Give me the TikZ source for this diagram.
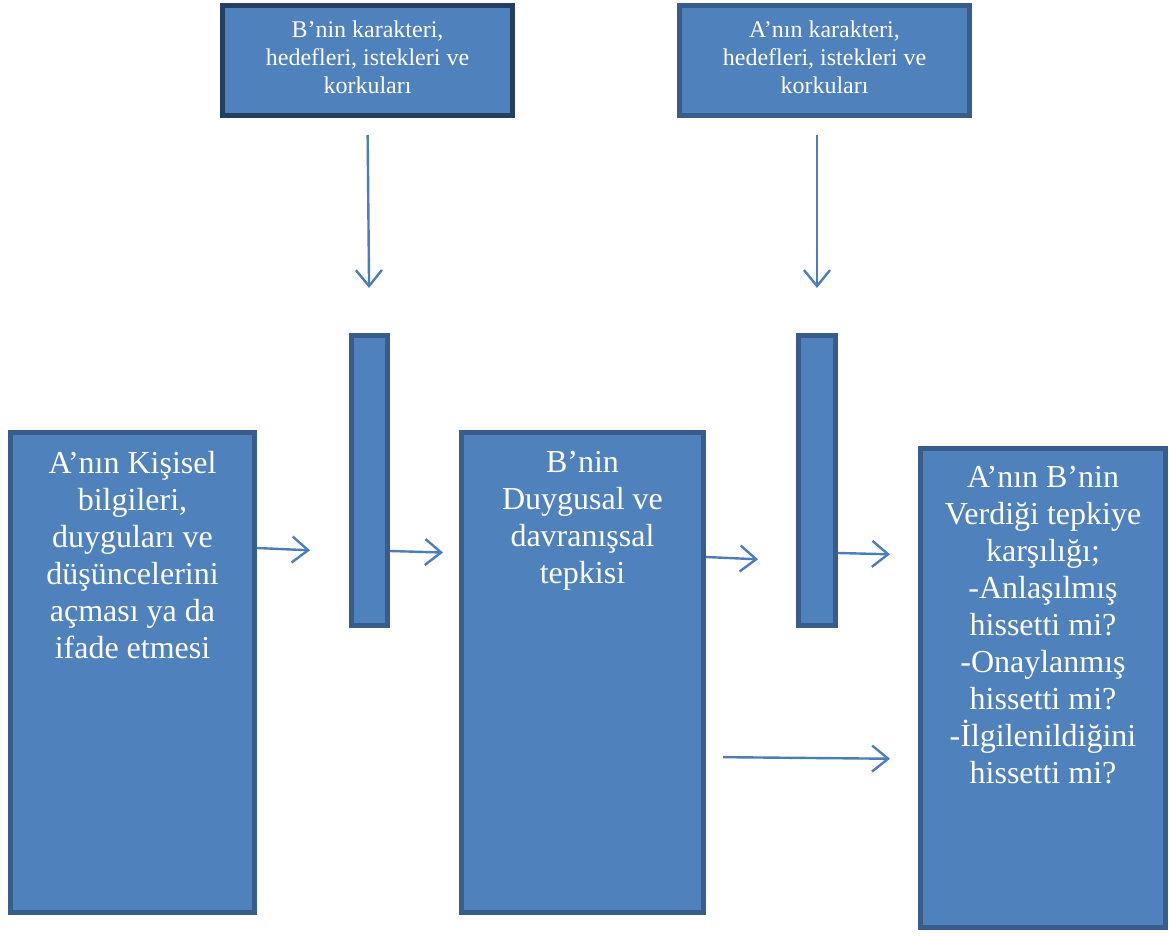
\documentclass[tikz,border=0pt]{standalone}
\usepackage{fontspec}
\setmainfont{Liberation Serif}
\usetikzlibrary{arrows.meta}

\definecolor{boxblue}{HTML}{4F81BD}
\definecolor{boxline}{HTML}{385D8A}
\definecolor{darkline}{HTML}{243F60}
\definecolor{arrowblue}{HTML}{4A7EBB}

\tikzset{
  box/.style={draw=boxline, fill=boxblue, line width=5pt, inner sep=0pt},
  boxtext/.style={text=white, align=center, inner sep=0pt, anchor=north},
  small/.style={font=\fontsize{24}{28}\selectfont},
  big/.style={font=\fontsize{32}{37}\selectfont},
  arr/.style={draw=arrowblue, line width=2.4pt, -{Straight Barb[length=16pt,width=26pt]}},
}

\begin{document}
\begin{tikzpicture}[x=1pt,y=-1pt]
  \useasboundingbox (0,0) rectangle (1169,936);

  \node (kB) at (367.5,60.5) [box, draw=darkline, minimum width=290pt, minimum height=110pt] {} ;
  \node (kA) at (824.5,60.5) [box, minimum width=290pt, minimum height=110pt] {} ;
  \node (bar1) at (369.5,480.5) [box, minimum width=36pt, minimum height=290pt] {} ;
  \node (bar2) at (817,480.5) [box, minimum width=37pt, minimum height=290pt] {} ;
  \node (nA) at (132.5,672.5) [box, minimum width=244pt, minimum height=480pt] {} ;
  \node (nB) at (582.5,672.5) [box, minimum width=242pt, minimum height=480pt] {} ;
  \node (nC) at (1043,688) [box, minimum width=245pt, minimum height=479pt] {} ;

  \node (tB) at (367.5,21) [boxtext, small] {B’nin karakteri,\\hedefleri, istekleri ve\\korkuları} ;
  \node (tA) at (824.5,21) [boxtext, small] {A’nın karakteri,\\hedefleri, istekleri ve\\korkuları} ;
  \node (tnA) at (132.5,451) [boxtext, big] {A’nın Kişisel\\bilgileri,\\duyguları ve\\düşüncelerini\\açması ya da\\ifade etmesi} ;
  \node (tnB) at (582.5,451) [boxtext, big] {B’nin\\Duygusal ve\\davranışsal\\tepkisi} ;
  \node (tnC) at (1043,466) [boxtext, big] {A’nın B’nin\\Verdiği tepkiye\\karşılığı;\\-Anlaşılmış\\hissetti mi?\\-Onaylanmış\\hissetti mi?\\-İlgilenildiğini\\hissetti mi?} ;

  \draw [arr, shorten <=17pt, shorten >=45pt] (kB.south) -- (bar1.north);
  \draw [arr, shorten <=17pt, shorten >=45pt] (kA.south -| bar2.north) -- (bar2.north);

  \draw [arr, shorten >=39pt] (nA.east |- 0,548) -- (bar1.west |- 0,552);
  \draw [arr, shorten >=16pt] (bar1.east |- 0,551) -- (nB.west |- 0,553);
  \draw [arr, shorten >=38pt] (nB.east |- 0,557) -- (bar2.west |- 0,561);
  \draw [arr, shorten >=28pt] (bar2.east |- 0,553) -- (nC.west |- 0,555);
  \draw [arr, shorten <=17pt, shorten >=28pt] (nB.east |- 0,757) -- (nC.west |- 0,759);
\end{tikzpicture}
\end{document}
